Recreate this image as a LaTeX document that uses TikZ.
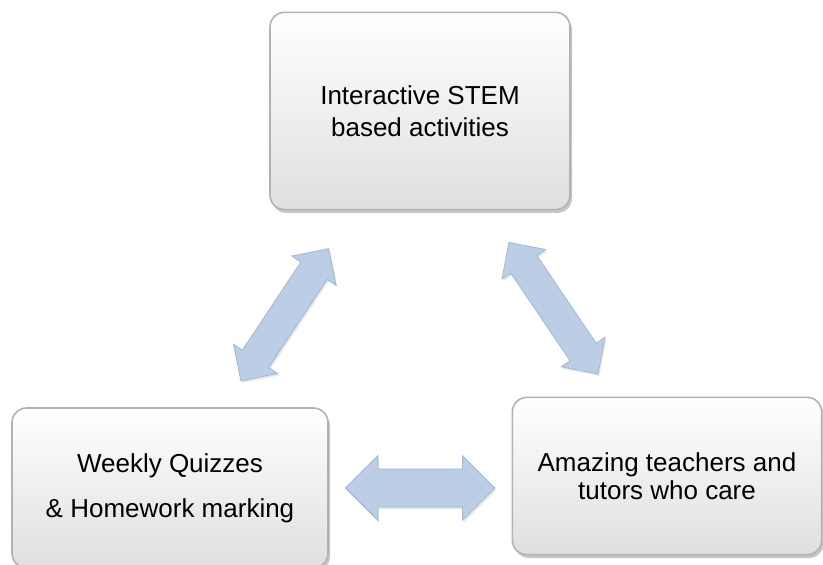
\documentclass[tikz,border=0pt]{standalone}
\usepackage{fontspec}
\setmainfont{Liberation Sans}
\usetikzlibrary{shapes.arrows, shadows}
\definecolor{arrowblue}{RGB}{187,206,230}
\definecolor{arrowedge}{RGB}{158,184,216}

\begin{document}
\begin{tikzpicture}[x=0.75pt,y=-0.75pt,
  box/.style={rectangle, rounded corners=11pt, draw=gray!60, line width=1.2pt,
    top color=white, bottom color=gray!25, align=center,
    drop shadow={shadow xshift=1.5pt, shadow yshift=-2.5pt, opacity=0.45}},
  fatarrow/.style={double arrow, draw=arrowedge, fill=arrowblue, line width=0.6pt,
    inner sep=0pt, inner ysep=11.5pt, double arrow head extend=8pt,
    minimum height=119pt, sloped,
    drop shadow={shadow xshift=1pt, shadow yshift=-1.5pt, opacity=0.2}}]

  \useasboundingbox (0,0) rectangle (823,564);
  \clip (0,0) rectangle (823,564);

% define the boxes
  \node[box, minimum width=225pt, minimum height=148pt,
        font=\fontsize{19.5}{24}\selectfont]   (stem)  at (420,111)
{Interactive STEM\\based activities};
  \node[box, minimum width=237pt, minimum height=120pt,
        font=\fontsize{19.5}{34}\selectfont]   (quiz)  at (170,488)
{Weekly Quizzes\\\& Homework marking};
  \node[box, minimum width=232pt, minimum height=118pt,
        font=\fontsize{19.5}{21}\selectfont]   (tutor) at (667,476)
{Amazing teachers and\\tutors who care};

% define the links
  \path (stem) -- node[fatarrow, pos=0.53] {} (quiz)
        (stem) -- node[fatarrow, pos=0.525] {} (tutor)
        (quiz.east) -- node[fatarrow, inner ysep=14pt,
                       double arrow head extend=10pt, minimum height=112pt] {} (quiz.east -| tutor.west);

\end{tikzpicture}
\end{document}
